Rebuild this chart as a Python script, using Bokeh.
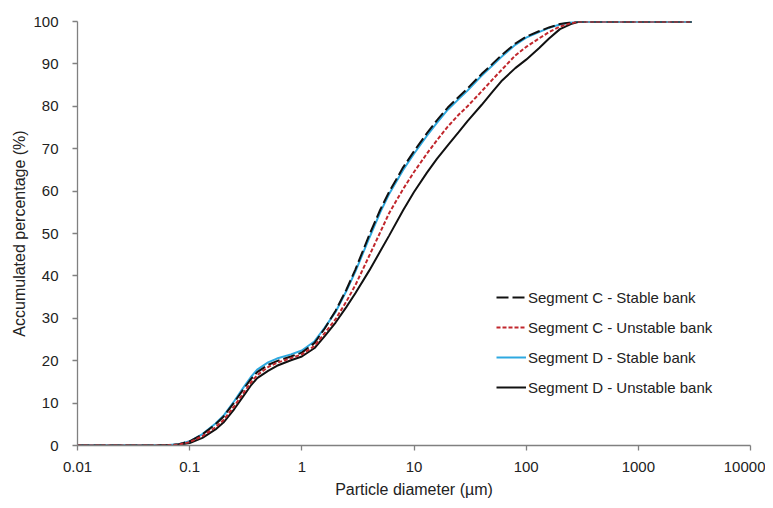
from bokeh.plotting import figure
from bokeh.models import FixedTicker, CustomJSTickFormatter, Legend, LegendItem
from bokeh.embed import file_html
from bokeh.resources import INLINE

diameter = [0.01, 0.02, 0.04, 0.06, 0.08, 0.1, 0.13, 0.17, 0.2, 0.25, 0.3, 0.35, 0.4, 0.5, 0.6, 0.8,
            1, 1.3, 1.6, 2, 2.5, 3, 4, 5, 6, 8, 10, 13, 16, 20, 25, 30, 40, 50, 60, 80,
            100, 130, 160, 200, 250, 300, 400, 600, 1000, 2000, 3000]

seg_c_stable = [0, 0, 0, 0.05, 0.3, 1.0, 2.6, 5.0, 6.8, 10.2, 13.2, 15.6, 17.3, 19.0, 19.9, 21.0,
                21.9, 24.2, 27.6, 31.8, 36.8, 41.5, 49.7, 55.6, 59.8, 65.6, 69.4, 73.6, 76.7, 79.7, 82.2, 84.2, 87.6, 90.0, 92.0, 94.8,
                96.4, 97.7, 98.6, 99.4, 99.8, 100, 100, 100, 100, 100, 100]

seg_c_unstable = [0, 0, 0, 0.03, 0.2, 0.8, 2.2, 4.3, 6.0, 9.3, 12.3, 14.8, 16.6, 18.5, 19.5, 20.6,
                  21.5, 23.5, 26.5, 29.8, 34.0, 37.8, 44.8, 50.3, 54.8, 60.5, 64.5, 68.8, 72.0, 75.2, 78.0, 80.0, 83.5, 86.3, 88.5, 92.0,
                  94.0, 96.0, 97.5, 98.8, 99.6, 100, 100, 100, 100, 100, 100]

seg_d_stable = [0, 0, 0, 0.05, 0.3, 1.0, 2.7, 5.2, 7.0, 10.5, 13.6, 16.1, 17.9, 19.6, 20.5, 21.5,
                22.4, 24.6, 27.8, 31.5, 36.5, 41.0, 49.0, 55.0, 59.3, 65.0, 68.8, 73.0, 76.1, 79.2, 81.7, 83.7, 87.2, 89.6, 91.6, 94.5,
                96.2, 97.5, 98.5, 99.3, 99.8, 100, 100, 100, 100, 100, 100]

seg_d_unstable = [0, 0, 0, 0.02, 0.15, 0.6, 1.8, 3.8, 5.4, 8.6, 11.6, 14.1, 15.9, 17.6, 18.8, 20.1,
                  21.0, 23.0, 25.8, 29.0, 32.7, 35.9, 41.3, 45.8, 49.5, 55.5, 59.8, 64.3, 67.6, 70.8, 73.9, 76.5, 80.3, 83.4, 85.9, 89.0,
                  91.0, 93.7, 96.0, 98.2, 99.4, 100, 100, 100, 100, 100, 100]

x_ticks = [0.01, 0.1, 1, 10, 100, 1000, 10000]
y_ticks = [0, 10, 20, 30, 40, 50, 60, 70, 80, 90, 100]

FONT = "Liberation Sans"

p = figure(width=765, height=500, x_axis_type="log", x_range=(0.01, 10000), y_range=(0, 100),
           output_backend="svg", toolbar_location=None,
           min_border_left=77, min_border_right=15, min_border_top=21, min_border_bottom=54)
p.outline_line_color = None
p.xgrid.grid_line_color = None
p.ygrid.grid_line_color = None

r_du = p.line(diameter, seg_d_unstable, line_color="#111111", line_width=2)
r_ds = p.line(diameter, seg_d_stable, line_color="#2ea9e0", line_width=2)
r_cs = p.line(diameter, seg_c_stable, line_color="#111111", line_width=2, line_dash="12 4")
r_cu = p.line(diameter, seg_c_unstable, line_color="#c1272d", line_width=2, line_dash="4 2")

p.xaxis.ticker = FixedTicker(ticks=x_ticks)
p.xaxis.formatter = CustomJSTickFormatter(code="return tick >= 1 ? tick.toFixed(0) : String(tick);")
p.yaxis.ticker = FixedTicker(ticks=y_ticks)

for ax in (p.xaxis, p.yaxis):
    ax.axis_line_color = "#808080"
    ax.axis_line_width = 1.3
    ax.major_tick_line_color = "#808080"
    ax.major_tick_line_width = 1.3
    ax.major_tick_out = 5
    ax.major_tick_in = 0
    ax.minor_tick_line_color = None
    ax.major_label_text_font = FONT
    ax.major_label_text_font_size = "15px"
    ax.major_label_text_color = "#222222"
    ax.axis_label_text_font = FONT
    ax.axis_label_text_font_size = "16px"
    ax.axis_label_text_font_style = "normal"
    ax.axis_label_text_color = "#222222"

p.xaxis.axis_label = "Particle diameter (µm)"
p.yaxis.axis_label = "Accumulated percentage (%)"
p.xaxis.major_label_standoff = 11
p.xaxis.axis_label_standoff = 6
p.yaxis.major_label_standoff = 14
p.yaxis.axis_label_standoff = 2

legend = Legend(items=[
    LegendItem(label="Segment C - Stable bank", renderers=[r_cs]),
    LegendItem(label="Segment C - Unstable bank", renderers=[r_cu]),
    LegendItem(label="Segment D - Stable bank", renderers=[r_ds]),
    LegendItem(label="Segment D - Unstable bank", renderers=[r_du]),
], location=(419, 48))
legend.border_line_color = None
legend.background_fill_alpha = 0
legend.label_text_font = FONT
legend.label_text_font_size = "15px"
legend.label_text_color = "#222222"
legend.glyph_width = 30
legend.glyph_height = 20
legend.label_height = 20
legend.spacing = 10
legend.label_standoff = 2
legend.padding = 10
legend.margin = 0
p.add_layout(legend)

open("out.html", "w").write(file_html(p, INLINE))
